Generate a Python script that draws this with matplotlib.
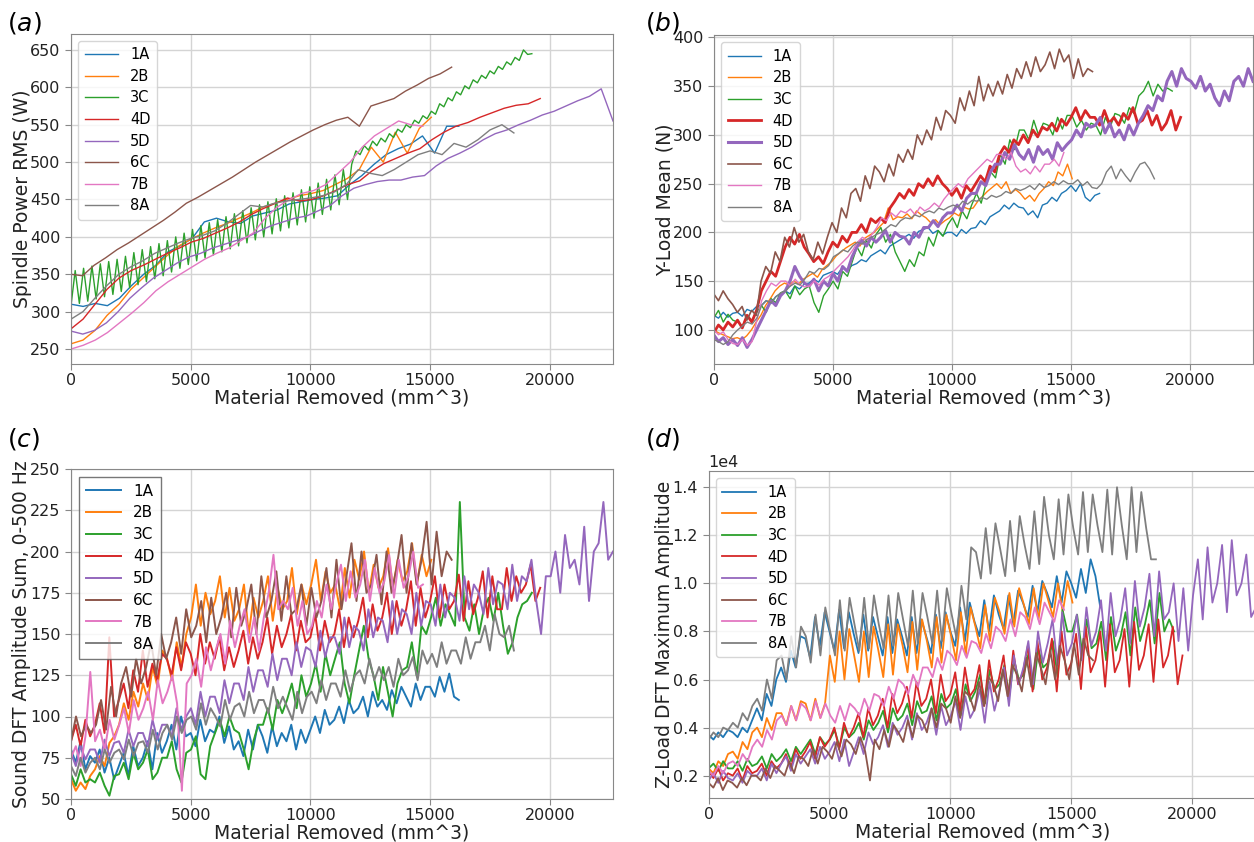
import numpy as np
import matplotlib
matplotlib.use("Agg")
import matplotlib.pyplot as plt

tests = ["1A", "2B", "3C", "4D", "5D", "6C", "7B", "8A"]
colors = ["#1f77b4", "#ff7f0e", "#2ca02c", "#d62728", "#9467bd", "#8c564b", "#e377c2", "#7f7f7f"]
# material removed at the end of each test (mm^3); samples are evenly spaced from 0
x_end = [16200, 15050, 19250, 19600, 22640, 15900, 14700, 18500]

# (a) spindle power RMS (W)
spindle_1A = [310, 307, 311, 308, 318, 335, 350, 362, 380, 388, 398, 420, 425, 420, 418, 428, 432,
              436, 444, 447, 450, 452, 455, 470, 482, 497, 510, 518, 524, 535, 512, 548, 548]
spindle_2B = [257, 262, 275, 295, 310, 330, 345, 360, 375, 388, 397, 405, 412, 418, 425, 432, 440,
              445, 450, 455, 458, 462, 470, 478, 490, 520, 500, 540, 512, 545, 560]
spindle_3C = [308, 355, 311, 358, 314, 361, 317, 364, 320, 367, 323, 370, 327, 374, 332, 379, 336, 383,
              340, 387, 344, 391, 348, 395, 353, 400, 358, 405, 363, 410, 368, 415, 372, 419, 376, 423,
              380, 427, 384, 431, 388, 435, 392, 439, 396, 443, 400, 447, 404, 451, 408, 455, 412, 459,
              416, 463, 420, 467, 425, 472, 430, 477, 436, 483, 443, 490, 450, 497,
              515, 510, 522, 516, 528, 522, 532, 527, 538, 533,
              544, 540, 550, 546, 556, 552, 562, 558, 568, 564,
              578, 574, 586, 582, 594, 590, 602, 598, 610, 606,
              616, 612, 622, 618, 628, 624, 634, 630, 640, 636, 650, 644, 645]
spindle_4D = [277, 290, 310, 330, 345, 355, 362, 370, 378, 385, 393, 398, 405, 412, 420, 430, 438, 445,
              452, 448, 450, 455, 462, 470, 475, 488, 498, 505, 512, 518, 530, 540, 548, 553, 560, 566,
              572, 576, 578, 585]
spindle_5D = [274, 270, 275, 285, 300, 318, 332, 345, 355, 365, 373, 378, 385, 390, 395, 400, 408, 415,
              420, 425, 428, 435, 442, 455, 465, 470, 474, 476, 476, 480, 482, 495, 505, 512, 520, 530,
              538, 543, 550, 556, 563, 568, 575, 582, 588, 598, 555]
spindle_6C = [350, 348, 362, 372, 383, 392, 402, 412, 422, 433, 445, 453, 462, 471, 480, 490, 500, 509,
              518, 527, 535, 543, 550, 556, 560, 548, 575, 580, 585, 595, 603, 612, 618, 627]
spindle_7B = [250, 255, 262, 272, 285, 298, 312, 328, 340, 350, 360, 370, 378, 385, 395, 405, 425, 440,
              450, 458, 462, 470, 485, 500, 520, 535, 545, 555, 550, 548]
spindle_8A = [290, 300, 318, 335, 350, 360, 368, 378, 385, 392, 398, 402, 408, 418, 430, 442, 440, 445,
              448, 450, 452, 455, 460, 470, 490, 485, 482, 490, 500, 510, 515, 510, 525, 520, 530, 543,
              550, 539]

# (b) Y-load mean (N)
yload_1A = [115, 112, 118, 113, 117, 118, 114, 121, 119, 124, 125, 130, 127, 134, 137, 140, 137, 145, 142, 147,
            148, 152, 149, 156, 158, 160, 157, 164, 161, 166, 168, 172, 170, 176, 179, 182, 178, 186, 189, 192,
            195, 198, 194, 201, 203, 205, 199, 202, 197, 200, 200, 196, 203, 199, 204, 205, 212, 208, 216, 219,
            222, 228, 224, 230, 226, 225, 218, 222, 215, 228, 230, 236, 232, 240, 243, 248, 242, 250, 236, 232,
            238, 240]
yload_2B = [100, 97, 95, 93, 91, 92, 90, 94, 100, 108, 115, 125, 132, 140, 145, 148, 146, 150, 147, 152,
            155, 158, 154, 162, 166, 170, 176, 180, 184, 187, 190, 186, 194, 197, 200, 205, 210, 225, 213, 216,
            215, 219, 214, 222, 218, 215, 210, 213, 208, 212, 215, 220, 217, 226, 224, 225, 232, 237, 242, 246,
            250, 245, 252, 240, 244, 240, 234, 238, 232, 240, 245, 252, 248, 262, 258, 270, 255]
yload_3C = [112, 120, 108, 116, 110, 108, 104, 114, 110, 118, 125, 118, 132, 128, 138, 140, 132, 145, 136, 142,
            145, 128, 118, 135, 142, 150, 142, 160, 155, 170, 185, 176, 192, 184, 198, 205, 190, 198, 180, 170,
            160, 172, 165, 180, 176, 195, 186, 202, 196, 208, 215, 205, 222, 214, 228, 240, 230, 250, 262, 256,
            280, 270, 295, 285, 305, 305, 295, 315, 300, 312, 310, 300, 318, 306, 320, 320, 308, 315, 305, 312,
            310, 300, 318, 308, 322, 320, 312, 328, 322, 340, 345, 355, 340, 352, 345, 348, 345]
yload_4D = [97, 105, 100, 108, 103, 110, 102, 115, 108, 120, 140, 150, 160, 155, 170, 185, 195, 188, 198, 185,
            178, 170, 175, 168, 180, 190, 185, 196, 190, 200, 200, 208, 200, 214, 210, 215, 210, 225, 232, 240,
            235, 244, 238, 250, 246, 255, 248, 258, 250, 245, 238, 245, 235, 248, 242, 250, 258, 252, 268, 262,
            280, 288, 282, 295, 290, 300, 292, 305, 298, 308, 305, 312, 304, 316, 310, 318, 328, 315, 325, 318,
            318, 310, 325, 312, 318, 310, 322, 316, 328, 312, 315, 325, 310, 320, 305, 312, 325, 305, 318]
yload_5D = [95, 88, 92, 85, 90, 84, 92, 82, 90, 100, 110, 120, 130, 125, 135, 140, 150, 165, 155, 148,
            145, 152, 140, 150, 145, 158, 150, 165, 160, 175, 185, 192, 186, 195, 190, 195, 202, 190, 200, 196,
            195, 188, 200, 195, 205, 205, 212, 206, 215, 220, 220, 228, 222, 235, 240, 240, 252, 248, 262, 270,
            270, 282, 275, 290, 280, 275, 285, 272, 288, 280, 285, 275, 292, 284, 290, 295, 305, 298, 312, 308,
            310, 318, 302, 312, 298, 305, 295, 310, 300, 312, 320, 330, 325, 340, 335, 355, 365, 350, 368, 358,
            355, 348, 360, 345, 352, 338, 330, 345, 335, 355, 360, 350, 368, 355]
yload_6C = [137, 130, 140, 132, 126, 118, 124, 110, 120, 115, 150, 165, 158, 180, 170, 195, 185, 205, 190, 198,
            180, 172, 190, 178, 195, 210, 200, 225, 215, 240, 245, 232, 258, 245, 268, 262, 252, 270, 258, 280,
            272, 285, 275, 300, 290, 305, 295, 318, 305, 325, 320, 312, 338, 325, 345, 330, 360, 335, 352, 340,
            355, 342, 362, 348, 368, 358, 375, 360, 380, 365, 372, 385, 368, 388, 375, 382, 358, 378, 360, 368,
            365]
yload_7B = [100, 95, 98, 90, 86, 85, 90, 84, 88, 110, 130, 140, 148, 145, 150, 150, 145, 152, 146, 144,
            145, 150, 146, 152, 155, 160, 165, 170, 175, 182, 190, 195, 192, 198, 205, 215, 212, 220, 216, 222,
            220, 224, 218, 226, 222, 225, 230, 226, 234, 240, 245, 250, 246, 255, 260, 265, 270, 275, 272, 280,
            280, 275, 282, 268, 262, 265, 260, 268, 262, 270, 270, 275, 268, 282]
yload_8A = [90, 88, 85, 88, 95, 100, 104, 108, 106, 112, 125, 130, 128, 134, 138, 140, 145, 148, 146, 152,
            160, 158, 163, 162, 166, 175, 178, 182, 180, 186, 190, 188, 193, 195, 198, 200, 204, 208, 206, 212,
            215, 214, 218, 216, 220, 222, 220, 225, 223, 226, 228, 226, 232, 229, 233, 232, 236, 234, 238, 236,
            238, 242, 240, 245, 243, 245, 248, 244, 250, 246, 248, 252, 249, 253, 250, 250, 254, 248, 252, 246,
            245, 250, 262, 268, 255, 265, 258, 252, 262, 270, 272, 265, 255]

# (c) sound DFT amplitude sum, 0-500 Hz
sound_1A = [80, 72, 85, 68, 76, 72, 80, 66, 75, 62, 70, 78, 64, 82, 70, 75, 85, 68, 90, 78,
            85, 95, 80, 100, 88, 90, 82, 98, 85, 92, 90, 100, 84, 94, 80, 85, 76, 92, 80, 95,
            88, 78, 94, 82, 90, 85, 95, 80, 92, 84, 92, 100, 90, 104, 95, 98, 106, 96, 110, 102,
            105, 112, 100, 115, 106, 110, 104, 116, 108, 118, 112, 106, 120, 110, 118, 118, 112, 124, 115, 126,
            112, 110]
sound_2B = [62, 55, 60, 56, 64, 68, 76, 70, 84, 88, 95, 108, 98, 115, 106, 120, 110, 130, 118, 140,
            135, 122, 145, 130, 150, 160, 180, 155, 175, 162, 170, 185, 160, 178, 158, 165, 180, 150, 172, 160,
            170, 185, 158, 178, 165, 170, 190, 162, 180, 168, 180, 195, 170, 188, 175, 180, 165, 190, 172, 195,
            183, 200, 175, 192, 178, 185, 202, 178, 195, 182, 188, 205, 180, 198, 185, 195]
sound_3C = [65, 58, 68, 60, 62, 60, 66, 58, 52, 64, 65, 72, 62, 78, 68, 72, 80, 62, 66, 75,
            75, 85, 68, 60, 78, 80, 88, 65, 62, 82, 90, 98, 88, 100, 92, 90, 80, 68, 85, 95,
            95, 105, 92, 110, 102, 110, 120, 105, 125, 112, 120, 132, 115, 138, 125, 135, 145, 120, 108, 125,
            140, 155, 135, 125, 110, 130, 115, 100, 120, 128, 130, 145, 125, 155, 150, 160, 172, 155, 168, 162,
            155, 230, 160, 152, 168, 150, 165, 172, 158, 175, 155, 138, 145, 160, 168, 170, 175]
sound_4D = [85, 95, 82, 98, 88, 95, 108, 90, 148, 100, 110, 120, 105, 128, 115, 140, 118, 132, 122, 138,
            135, 125, 142, 128, 145, 138, 125, 150, 132, 145, 135, 148, 128, 142, 130, 140, 152, 132, 148, 135,
            145, 160, 138, 155, 142, 150, 162, 140, 158, 145, 148, 162, 140, 158, 145, 150, 165, 142, 160, 148,
            158, 172, 148, 168, 152, 160, 175, 150, 170, 155, 165, 182, 155, 178, 160, 170, 185, 160, 180, 165,
            170, 186, 158, 182, 162, 172, 188, 160, 185, 165, 165, 190, 170, 185, 175, 180, 192, 170, 178]
sound_5D = [78, 70, 82, 74, 80, 80, 72, 86, 76, 84, 85, 78, 92, 82, 90, 90, 82, 98, 86, 95,
            95, 88, 105, 92, 100, 105, 95, 115, 100, 112, 112, 102, 122, 108, 120, 120, 110, 130, 115, 128,
            128, 118, 138, 122, 135, 135, 125, 145, 130, 142, 140, 130, 152, 136, 148, 148, 138, 160, 142, 155,
            152, 140, 165, 148, 160, 158, 145, 170, 150, 165, 162, 150, 175, 155, 170, 168, 155, 180, 160, 175,
            172, 158, 185, 165, 180, 175, 162, 190, 168, 182, 180, 165, 192, 170, 185, 182, 195, 170, 150, 185,
            185, 200, 175, 210, 190, 195, 180, 215, 170, 200, 205, 230, 195, 200]
sound_6C = [85, 100, 88, 95, 90, 95, 110, 92, 118, 100, 120, 130, 112, 135, 120, 130, 145, 125, 150, 135,
            145, 160, 138, 165, 148, 155, 170, 145, 172, 150, 160, 175, 148, 178, 155, 165, 180, 150, 185, 160,
            170, 188, 158, 185, 162, 165, 180, 155, 178, 160, 170, 190, 160, 195, 165, 185, 205, 170, 200, 175,
            180, 198, 168, 200, 175, 190, 210, 175, 205, 180, 195, 218, 180, 212, 185, 200, 195]
sound_7B = [75, 82, 70, 88, 127, 85, 92, 80, 98, 86, 95, 105, 90, 110, 98, 105, 115, 98, 122, 108,
            115, 125, 108, 55, 120, 125, 135, 118, 142, 128, 140, 150, 132, 158, 142, 155, 165, 145, 160, 140,
            160, 175, 198, 165, 170, 165, 178, 155, 170, 150, 155, 170, 160, 180, 165, 180, 192, 170, 188, 172,
            180, 195, 170, 190, 175, 182, 198, 172, 195, 178, 185, 200, 178, 180]
sound_8A = [70, 64, 75, 66, 72, 75, 68, 80, 72, 78, 80, 74, 86, 76, 84, 85, 78, 92, 80, 90,
            95, 86, 100, 90, 98, 100, 92, 108, 95, 105, 100, 94, 110, 98, 106, 108, 100, 115, 102, 110,
            110, 102, 118, 105, 112, 105, 98, 115, 102, 112, 115, 108, 122, 110, 120, 120, 112, 128, 115, 125,
            128, 120, 135, 122, 130, 122, 130, 118, 135, 125, 128, 136, 122, 140, 132, 138, 130, 145, 132, 140,
            140, 132, 148, 135, 145, 145, 155, 140, 162, 150, 148, 155, 140]

# (d) Z-load DFT maximum amplitude
zload_1A = [3700, 3500, 3800, 3600, 3900, 3800, 3600, 4000, 3800, 4300, 4800, 4300, 5400, 4900, 6000,
            6500, 5900, 7200, 6500, 7800, 7700, 6900, 8600, 7400, 8800, 8000, 7200, 8900, 7300, 8800,
            7900, 7100, 8700, 7200, 8600, 7800, 7000, 8600, 7100, 8500, 7800, 7000, 8600, 7100, 8500,
            7800, 7100, 8700, 7300, 8800, 8000, 7400, 9000, 7600, 9200, 8400, 7800, 9300, 8000, 9500,
            8700, 8100, 9500, 8300, 9700, 9200, 8600, 9900, 8800, 10100, 9600, 9000, 10300, 9200, 10500,
            10000, 9400, 10600, 9600, 11000, 10300, 9000]
zload_2B = [2300, 2100, 2600, 2400, 2900, 3000, 2700, 3400, 3100, 3800, 4000, 3600, 4400, 3900, 4600,
            4600, 4100, 4900, 4300, 5100, 5000, 4300, 5200, 4400, 5000, 7000, 5900, 8000, 6000, 8100,
            7000, 5900, 8000, 6100, 8200, 7200, 6100, 8300, 6200, 8300, 7400, 6300, 8400, 6400, 8500,
            7600, 6500, 8600, 6700, 8700, 7800, 6800, 8800, 7000, 9000, 8200, 7300, 9100, 7600, 9400,
            8800, 7900, 9600, 8200, 9800, 9100, 8300, 9800, 8500, 10000, 9300, 8600, 10000, 8800, 10100,
            9200]
zload_3C = [2300, 2500, 2200, 2600, 2300, 2300, 2600, 2200, 2700, 2400, 2500, 2800, 2300, 2900, 2600,
            2800, 3100, 2600, 3200, 2900, 3200, 3500, 2900, 3600, 3300, 3500, 3900, 3200, 4000, 3600,
            3800, 4200, 3500, 4300, 3900, 4200, 4700, 3800, 4800, 4300, 4500, 5000, 4100, 5100, 4600,
            4700, 5300, 4300, 5400, 4800, 5000, 5600, 4500, 5800, 5100, 5500, 6200, 5000, 6400, 5600,
            5800, 6600, 5300, 6800, 6000, 6200, 7100, 5600, 7300, 6500, 6700, 7600, 6100, 8900, 8000,
            8000, 8700, 7200, 8500, 7300, 7500, 8400, 6800, 8600, 7200, 7800, 8800, 7000, 9000, 7600,
            8300, 9300, 7500, 9600, 8000, 8500, 8000]
zload_4D = [2200, 1900, 2300, 1800, 2100, 2000, 2300, 1800, 2400, 2100, 2200, 2500, 2000, 2600, 2300,
            2500, 2900, 2300, 3100, 2700, 3000, 3400, 2700, 3600, 3200, 3500, 4000, 3100, 4200, 3600,
            4000, 4600, 3600, 4800, 4100, 4500, 5200, 4000, 5400, 4600, 5000, 5700, 4400, 5900, 4900,
            5200, 6000, 4600, 6200, 5100, 5400, 6300, 4700, 6500, 5300, 5600, 6600, 4900, 6800, 5500,
            6000, 7000, 5200, 7200, 5800, 6300, 7400, 5500, 7600, 6000, 6500, 7700, 5500, 8000, 6200,
            6700, 7900, 5600, 8200, 6300, 6800, 8000, 5700, 8300, 6300, 6800, 8100, 5700, 8400, 6400,
            7000, 8300, 5900, 8500, 6500, 7000, 8200, 5800, 7000]
zload_5D = [1800, 2100, 1700, 2200, 1900, 1800, 2100, 1700, 2200, 2000, 2000, 2300, 1800, 2500, 2100,
            2500, 2800, 2200, 2900, 2500, 2800, 3100, 2500, 3200, 2700, 3000, 3400, 2600, 3500, 2400,
            3000, 3600, 2900, 3800, 3300, 3600, 4100, 3200, 4200, 3700, 4000, 4500, 3500, 4600, 3900,
            4200, 4800, 3700, 4900, 4100, 4500, 5100, 3900, 5300, 4400, 4800, 5600, 4200, 5900, 4700,
            5500, 6500, 4900, 7000, 5800, 6500, 7600, 5800, 8000, 6700, 7500, 8500, 6600, 8800, 7000,
            7500, 8700, 6800, 9000, 7400, 8000, 9300, 7200, 9600, 7800, 8500, 9800, 7500, 10100, 8200,
            9000, 10400, 7800, 10500, 8500, 8800, 10000, 7600, 9800, 7200, 9500, 11000, 8500, 11500, 9200,
            10000, 11600, 8800, 11800, 9500, 10000, 11200, 8600, 9000]
zload_6C = [1700, 1500, 1900, 1400, 1800, 1700, 1500, 1900, 1600, 2000, 2000, 1800, 2300, 1900, 2400,
            2200, 2000, 2600, 2100, 2800, 2700, 2400, 3100, 2500, 3200, 3000, 2700, 3400, 2800, 3500,
            3300, 2900, 3600, 3000, 1800, 3500, 3100, 3900, 3200, 4100, 3800, 3400, 4300, 3600, 4500,
            4300, 3800, 4800, 4000, 5000, 4800, 4200, 5300, 4400, 5500, 5300, 4700, 5900, 4900, 6100,
            5800, 5100, 6400, 5300, 6600, 6200, 5500, 6900, 5700, 7100, 6500, 5800, 7200, 6000, 7400,
            6800, 6000, 7500, 6200, 7700, 7000, 6800]
zload_7B = [2200, 2000, 2400, 2100, 2500, 2600, 2400, 2900, 2600, 3200, 3500, 3200, 3900, 3500, 4300,
            4500, 4100, 4900, 4300, 5000, 4800, 4300, 5100, 4400, 5000, 4500, 4200, 4900, 4300, 5000,
            4800, 4500, 5200, 4700, 5400, 5300, 4900, 5700, 5200, 6000, 5800, 5400, 6200, 5700, 6500,
            6500, 6100, 6900, 6400, 7200, 7000, 6600, 7400, 6900, 7600, 7500, 7100, 7900, 7300, 8200,
            8000, 7600, 8500, 7800, 8800, 8600, 8100, 9000, 8300, 9200, 8800, 8400, 9300, 8900]
zload_8A = [3500, 3800, 3600, 4000, 3900, 4200, 4000, 4600, 4300, 4900, 5200, 4700, 6000, 5200, 6800,
            7000, 6000, 7800, 6500, 8200, 7800, 6700, 8700, 7000, 9000, 8000, 7000, 9300, 7200, 9400,
            8300, 7200, 9400, 7300, 9500, 8300, 7300, 9500, 7400, 9600, 8500, 7400, 9700, 7500, 9600,
            8600, 7500, 9700, 7600, 9800, 8700, 7700, 9900, 8500, 11500, 11300, 10200, 12300, 10400, 12500,
            11400, 10300, 12600, 10500, 12800, 11600, 10600, 13000, 10800, 13600, 12000, 11000, 13500, 11200, 13700,
            12300, 11200, 13800, 11300, 13700, 12400, 11300, 13900, 11200, 14000, 12400, 11000, 14000, 11300, 13800,
            12300, 11000, 11000]

W, H = 1254, 842
fig = plt.figure(figsize=(W / 100, H / 100), dpi=100)


def px_axes(left, top, right, bottom):
    return fig.add_axes([left / W, 1 - bottom / H, (right - left) / W, (bottom - top) / H])


def panel(ax, series, widths, ylim, yticks, ylabel, leg_fs, leg_edge="#cccccc", rounded=True):
    for name, col, xe, ys, lw in zip(tests, colors, x_end, series, widths):
        xs = np.linspace(0, xe, len(ys))
        ax.plot(xs, ys, color=col, lw=lw, label=name)
    ax.set_xlim(0, 22640)
    ax.set_ylim(*ylim)
    ax.set_xticks([0, 5000, 10000, 15000, 20000])
    ax.set_yticks(yticks)
    ax.grid(True, color="#d4d4d4", lw=1.0)
    ax.set_axisbelow(True)
    for s in ax.spines.values():
        s.set_color("#888888")
    ax.tick_params(labelsize=11.5, colors="#222222", color="#888888", length=4)
    ax.tick_params(axis="x", pad=2.5)
    ax.set_xlabel("Material Removed (mm^3)", fontsize=13.5, color="#222222", labelpad=0)
    ax.set_ylabel(ylabel, fontsize=13.5, color="#222222", labelpad=-1)
    leg = ax.legend(loc="upper left", fontsize=leg_fs, handlelength=2.3, labelspacing=0.45,
                    borderpad=0.45, fancybox=rounded)
    leg.get_frame().set_edgecolor(leg_edge)
    return ax


ax_a = px_axes(71, 33.5, 613, 364)
panel(ax_a, [spindle_1A, spindle_2B, spindle_3C, spindle_4D, spindle_5D, spindle_6C, spindle_7B, spindle_8A],
      [1.0] * 8, (230, 672), range(250, 651, 50), "Spindle Power RMS (W)", 10.5)

ax_b = px_axes(713.7, 35, 1253, 364)
panel(ax_b, [yload_1A, yload_2B, yload_3C, yload_4D, yload_5D, yload_6C, yload_7B, yload_8A],
      [1.0, 1.0, 1.0, 2.0, 2.2, 1.2, 1.0, 1.0], (65, 402.5), range(100, 401, 50), "Y-Load Mean (N)", 10.5)

ax_c = px_axes(71, 469, 613, 799)
panel(ax_c, [sound_1A, sound_2B, sound_3C, sound_4D, sound_5D, sound_6C, sound_7B, sound_8A],
      [1.4] * 8, (50, 250), range(50, 251, 25), "Sound DFT Amplitude Sum, 0-500 Hz", 11,
      leg_edge="#555555", rounded=False)

ax_d = px_axes(708.6, 471, 1256, 798)
panel(ax_d, [zload_1A, zload_2B, zload_3C, zload_4D, zload_5D, zload_6C, zload_7B, zload_8A],
      [1.3] * 8, (1070, 14675), range(2000, 14001, 2000), "Z-Load DFT Maximum Amplitude", 10.5)
ax_d.ticklabel_format(axis="y", style="sci", scilimits=(0, 0))
ax_d.yaxis.get_offset_text().set_fontsize(11.5)

for tag, (x, y) in zip("abcd", [(7, 30), (645, 30), (7, 446), (645, 446)]):
    fig.text(x / W, 1 - y / H, r"$(\mathit{%s})$" % tag, fontsize=18, va="baseline", ha="left")

fig.savefig("out.png", dpi=100)
